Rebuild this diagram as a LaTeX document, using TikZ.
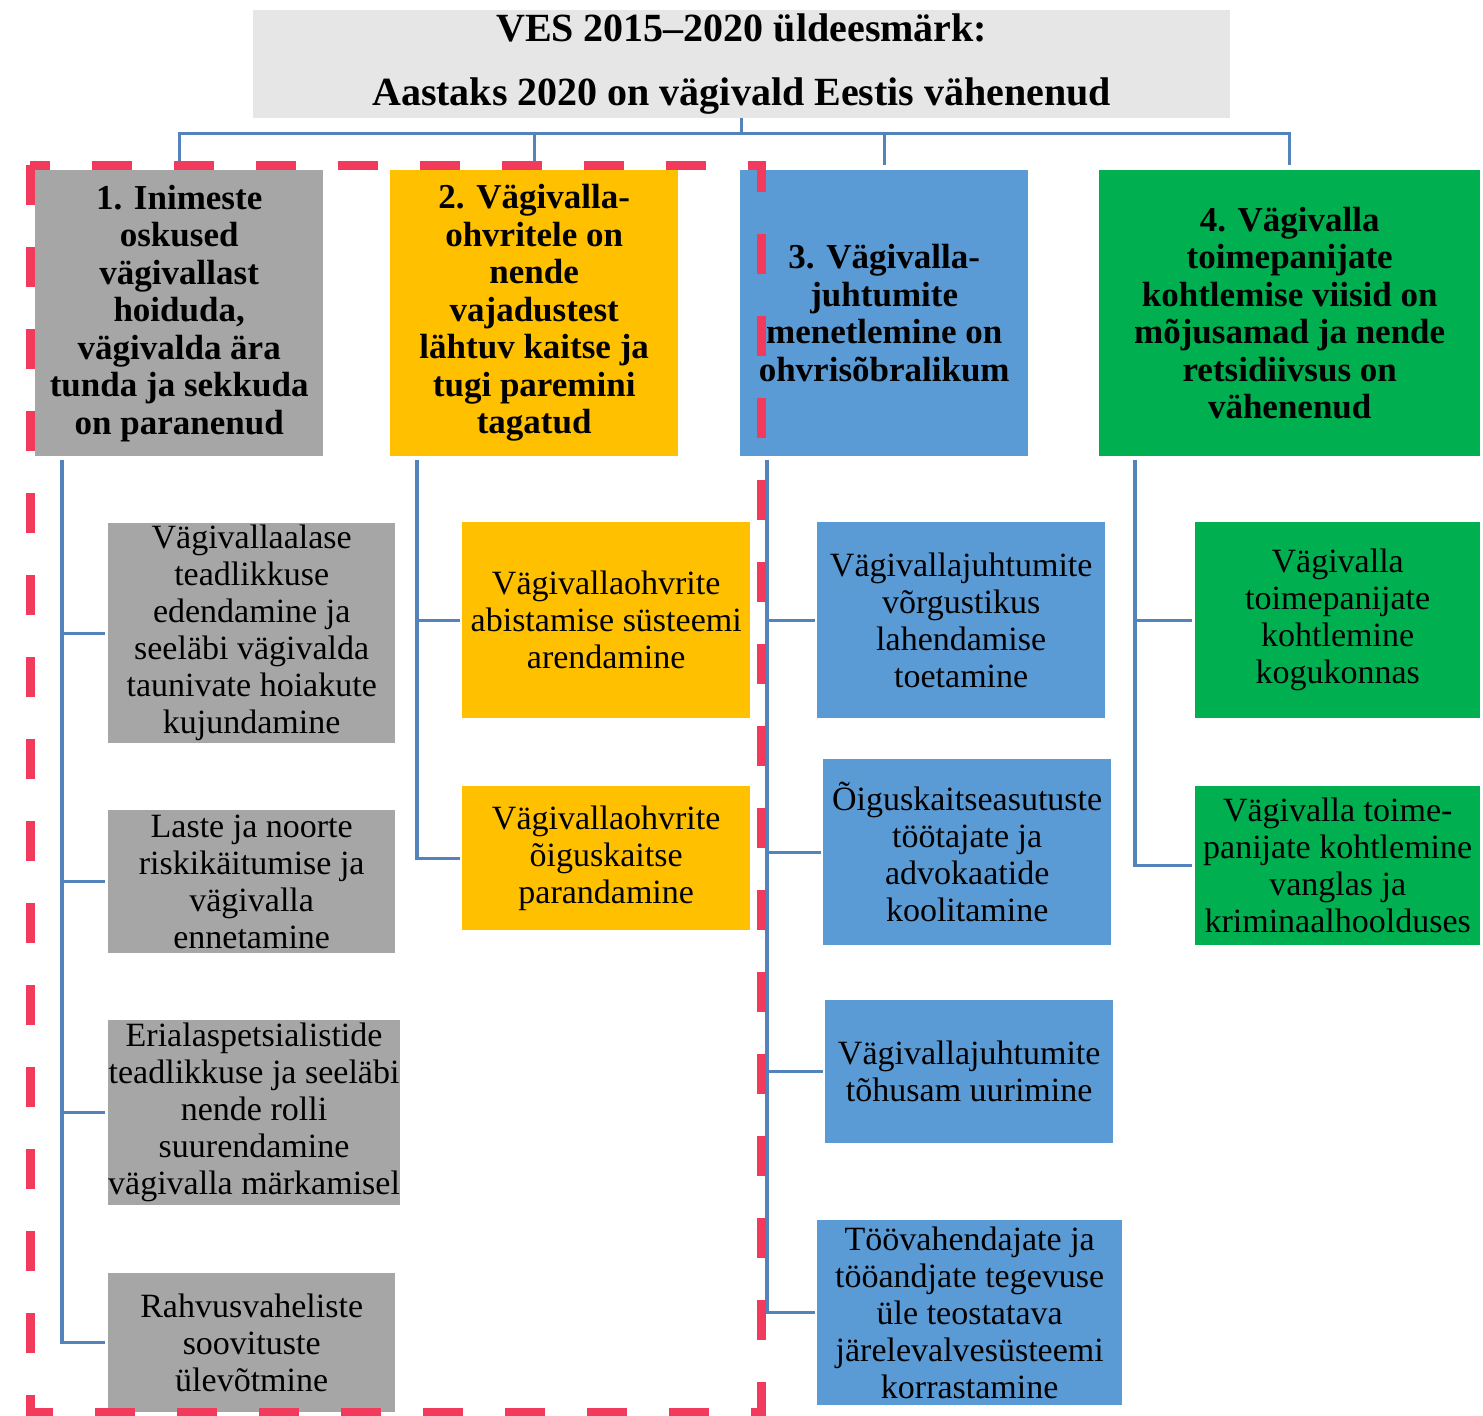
\documentclass[tikz,border=0pt]{standalone}
\usepackage{fontspec}
\setmainfont{Liberation Serif}
\definecolor{cgray}{HTML}{A6A6A6}
\definecolor{cyellow}{HTML}{FFC000}
\definecolor{cblue}{HTML}{5B9BD5}
\definecolor{cgreen}{HTML}{00B050}
\definecolor{ctitle}{HTML}{E6E6E6}
\definecolor{cconn}{RGB}{84,130,186}
\definecolor{cred}{RGB}{242,58,92}
\begin{document}
\begin{tikzpicture}[x=1pt,y=-1pt,
  box/.style={draw=none, inner sep=0pt, align=center, anchor=north west,
    font=\fontsize{34}{37}\selectfont},
  mainbox/.style={box, font=\fontsize{35}{37.5}\selectfont\bfseries},
  conn/.style={draw=cconn, line width=3.2pt},
  redframe/.style={draw=cred, line width=9pt, dash pattern=on 40pt off 42pt}]
\useasboundingbox (0,0) rectangle (1483,1416);

% title
\node[box, fill=ctitle, minimum width=977pt, minimum height=108pt,
  font=\fontsize{40}{64}\selectfont\bfseries] (title) at (253,10)
  {VES 2015–2020 üldeesmärk:\\Aastaks 2020 on vägivald Eestis vähenenud};

% main goals
\node[mainbox, fill=cgray, minimum width=288pt, minimum height=286pt] (m1) at (35,170)
  {1. Inimeste\\oskused\\vägivallast\\hoiduda,\\vägivalda ära\\tunda ja sekkuda\\on paranenud};
\node[mainbox, fill=cyellow, minimum width=288pt, minimum height=286pt] (m2) at (390,170)
  {2. Vägivalla-\\ohvritele on\\nende\\vajadustest\\lähtuv kaitse ja\\tugi paremini\\tagatud};
\node[mainbox, fill=cblue, minimum width=288pt, minimum height=286pt] (m3) at (740,170)
  {3. Vägivalla-\\juhtumite\\menetlemine on\\ohvrisõbralikum};
\node[mainbox, fill=cgreen, minimum width=381pt, minimum height=286pt] (m4) at (1099,170)
  {4. Vägivalla\\toimepanijate\\kohtlemise viisid on\\mõjusamad ja nende\\retsidiivsus on\\vähenenud};

% column 1
\node[box, fill=cgray, minimum width=287pt, minimum height=220pt] (s1a) at (108,523)
  {Vägivallaalase\\teadlikkuse\\edendamine ja\\seeläbi vägivalda\\taunivate hoiakute\\kujundamine};
\node[box, fill=cgray, minimum width=287pt, minimum height=143pt] (s1b) at (108,810)
  {Laste ja noorte\\riskikäitumise ja\\vägivalla\\ennetamine};
\node[box, fill=cgray, minimum width=287pt, minimum height=185pt] (s1c) at (108,1020)
  {Erialaspetsialistide\\teadlikkuse ja seeläbi\\nende rolli\\suurendamine\\vägivalla märkamisel};
\node[box, fill=cgray, minimum width=287pt, minimum height=139pt] (s1d) at (108,1273)
  {Rahvusvaheliste\\soovituste\\ülevõtmine};

% column 2
\node[box, fill=cyellow, minimum width=288pt, minimum height=196pt] (s2a) at (462,522)
  {Vägivallaohvrite\\abistamise süsteemi\\arendamine};
\node[box, fill=cyellow, minimum width=288pt, minimum height=144pt] (s2b) at (462,786)
  {Vägivallaohvrite\\õiguskaitse\\parandamine};

% column 3
\node[box, fill=cblue, minimum width=288pt, minimum height=196pt] (s3a) at (817,522)
  {Vägivallajuhtumite\\võrgustikus\\lahendamise\\toetamine};
\node[box, fill=cblue, minimum width=288pt, minimum height=186pt] (s3b) at (823,759)
  {Õiguskaitseasutuste\\töötajate ja\\advokaatide\\koolitamine};
\node[box, fill=cblue, minimum width=288pt, minimum height=143pt] (s3c) at (825,1000)
  {Vägivallajuhtumite\\tõhusam uurimine};
\node[box, fill=cblue, minimum width=305pt, minimum height=185pt] (s3d) at (817,1220)
  {Töövahendajate ja\\tööandjate tegevuse\\üle teostatava\\järelevalvesüsteemi\\korrastamine};

% column 4
\node[box, fill=cgreen, minimum width=285pt, minimum height=196pt] (s4a) at (1195,522)
  {Vägivalla\\toimepanijate\\kohtlemine\\kogukonnas};
\node[box, fill=cgreen, minimum width=285pt, minimum height=159pt] (s4b) at (1195,786)
  {Vägivalla toime-\\panijate kohtlemine\\vanglas ja\\kriminaalhoolduses};

% top bus
\path (title.south) ++(0,15) coordinate (bus);
\draw[conn] (title.south) -- (bus);
\foreach \m in {m1,m2,m3,m4}
  \draw[conn] ([yshift=5pt]\m.north) |- (bus);

% column connectors
\foreach \s in {s1a,s1b,s1c,s1d}
  \draw[conn] ([xshift=27pt,yshift=-4pt]m1.south west) |- ([xshift=-3pt]\s.west);
\foreach \s in {s2a,s2b}
  \draw[conn] ([xshift=27pt,yshift=-4pt]m2.south west) |- ([xshift=-2pt]\s.west);
\foreach \s in {s3a,s3b,s3c,s3d}
  \draw[conn] ([xshift=27pt,yshift=-4pt]m3.south west) |- ([xshift=-2pt]\s.west);
\foreach \s in {s4a,s4b}
  \draw[conn] ([xshift=36pt,yshift=-4pt]m4.south west) |- ([xshift=-3pt]\s.west);

% red dashed frame
\draw[redframe] (30,165) rectangle (761,1412);
\end{tikzpicture}
\end{document}
